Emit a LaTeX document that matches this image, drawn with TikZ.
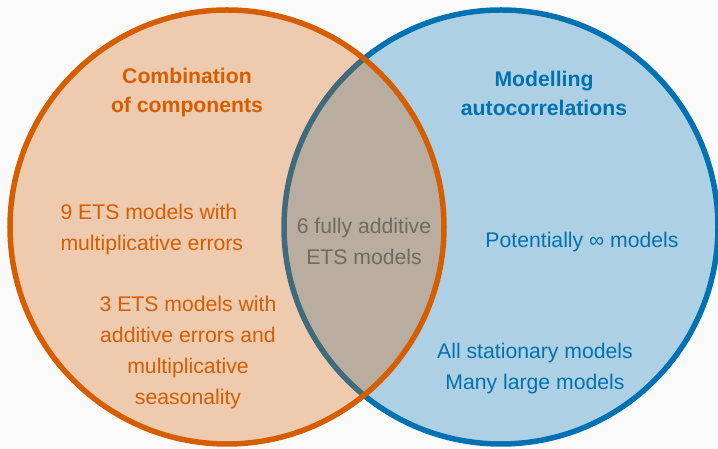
\documentclass[tikz,border=0pt]{standalone}
\usepackage{fontspec}
\setmainfont{Liberation Sans}
\definecolor{vermil}{HTML}{D55E00}
\definecolor{skyblue}{HTML}{0072B2}
\definecolor{overlap}{HTML}{6E6B60}
\definecolor{backdrop}{HTML}{FAFAFA}

\begin{document}
\begin{tikzpicture}[x=1pt, y=1pt,
    heading/.style={font=\fontsize{21.2}{29}\selectfont\bfseries, align=center},
    body/.style={font=\fontsize{21.2}{31}\selectfont, align=center}]
    % Background and bounding box
    \fill[backdrop] (0,0) rectangle (718,449);
    \useasboundingbox (0,0) rectangle (718,449);

    % Right set (drawn first)
    \fill[skyblue, opacity=0.3] (501,222) circle (217);
    \draw[line width=5.5, skyblue] (501,222) circle (217);

    % Left set (drawn on top)
    \fill[vermil, opacity=0.3] (227,222) circle (217);
    \draw[line width=5.5, vermil] (227,222) circle (217);

    % Set titles
    \node[heading, text=vermil] (comb) at (187,356) {Combination\\of components};
    \node[heading, text=skyblue] (acf) at (544,356) {Modelling\\autocorrelations};

    % Left only
    \node[body, text=vermil, align=left, anchor=west] (multerr) at (57,219) {9 ETS models with\\multiplicative errors};
    \node[body, text=vermil] (multseas) at (188,96) {3 ETS models with\\additive errors and\\multiplicative\\seasonality};

    % Both
    \node[body, text=overlap] (additive) at (364,208) {6 fully additive\\ETS models};

    % Right only
    \node[body, text=skyblue] (infinite) at (582,207) {Potentially ∞ models};
    \node[body, text=skyblue] (stationary) at (535,80) {All stationary models\\Many large models};
\end{tikzpicture}
\end{document}
